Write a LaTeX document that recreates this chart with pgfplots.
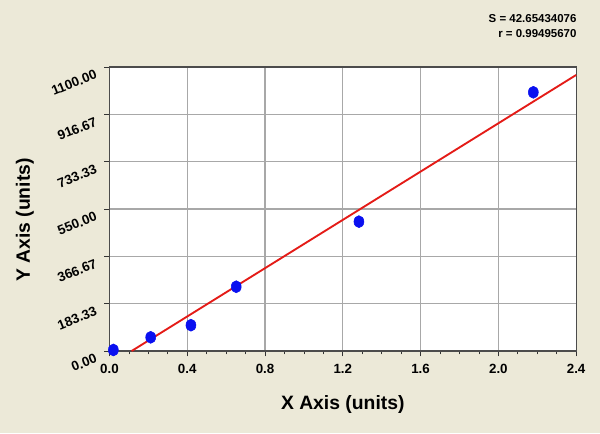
\documentclass[border=0pt]{standalone}
\usepackage{fontspec}
\setmainfont{Liberation Sans}
\usepackage{pgfplots}
\pgfplotsset{compat=1.18}
\definecolor{bgbeige}{HTML}{ECE9D8}
\definecolor{gridgray}{HTML}{A8A8A8}
\definecolor{fitred}{HTML}{E41B17}
\definecolor{ptblue}{HTML}{0A10F0}
\begin{document}
\begin{tikzpicture}
\fill[bgbeige] (0,0) rectangle (450pt,324.75pt);
\begin{axis}[
  at={(82.1pt,61.5pt)}, anchor=south west,
  scale only axis,
  width=350pt, height=213pt,
  xmin=0, xmax=2.4, ymin=0, ymax=1100,
  axis background/.style={fill=white},
  xtick={0,0.4,0.8,1.2,1.6,2.0,2.4},
  xticklabels={0.0,0.4,0.8,1.2,1.6,2.0,2.4},
  ytick={0,183.333,366.667,550,733.333,916.667,1100},
  yticklabels={0.00,183.33,366.67,550.00,733.33,916.67,1100.00},
  minor x tick num=3, minor y tick num=3,
  tick align=outside, tick pos=left,
  major tick length=4pt, minor tick length=2.5pt,
  tick style={black!80, line width=0.6pt},
  grid=major,
  major grid style={gridgray, line width=0.8pt},
  axis line style={black!70, line width=0.8pt},
  ticklabel style={font=\bfseries\fontsize{10}{11}\selectfont},
  xticklabel style={yshift=-2pt},
  yticklabel style={rotate=22, anchor=east, xshift=-4pt, yshift=-2.5pt},
  xlabel={X Axis (units)}, ylabel={Y Axis (units)},
  label style={font=\bfseries\fontsize{14.5}{16}\selectfont},
  xlabel style={at={(axis description cs:0.5,-0.190)}, anchor=center},
  ylabel style={at={(axis description cs:-0.181,0.461)}, anchor=center},
  clip=false,
]
% fitted line
\addplot[fitred, line width=1.4pt] coordinates {(0.114,0) (2.4,1069)};
% measured points
\addplot[only marks, mark=*, mark size=4.5pt, mark options={ptblue, draw=ptblue, xscale=0.83}]
  coordinates {(0.02,4) (0.212,53) (0.419,100) (0.652,249) (1.283,501) (2.18,1002)};
\end{axis}
\node[anchor=east, font=\bfseries\fontsize{8.6}{10}\selectfont, inner sep=0pt] at (432.5pt,311pt) {S = 42.65434076};
\node[anchor=east, font=\bfseries\fontsize{8.6}{10}\selectfont, inner sep=0pt] at (432.5pt,299.8pt) {r = 0.99495670};
\pgfresetboundingbox
\useasboundingbox (0,0) rectangle (450pt,324.75pt);
\end{tikzpicture}
\end{document}
